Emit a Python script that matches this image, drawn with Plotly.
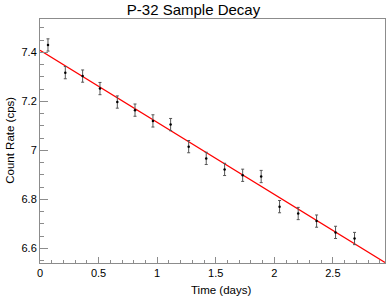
import plotly.graph_objects as go

# ---- data ----
time_days = [0.068, 0.216, 0.364, 0.512, 0.660, 0.811, 0.964, 1.115, 1.269,
             1.419, 1.576, 1.730, 1.888, 2.045, 2.204, 2.361, 2.523, 2.685]
count_rate = [7.430, 7.317, 7.303, 7.252, 7.197, 7.164, 7.120, 7.105, 7.015,
              6.967, 6.922, 6.898, 6.893, 6.770, 6.742, 6.711, 6.665, 6.640]
rate_err = [0.025] * len(time_days)

fit_intercept = 7.408
fit_slope = -0.294
fit_x = [0.0, 2.945]
fit_y = [fit_intercept + fit_slope * x for x in fit_x]

x_tickvals = [0, 0.5, 1, 1.5, 2, 2.5]
x_ticktext = ["0", "0.5", "1", "1.5", "2", "2.5"]
y_tickvals = [6.6, 6.8, 7.0, 7.2, 7.4]
y_ticktext = ["6.6", "6.8", "7", "7.2", "7.4"]

title_text = "P-32 Sample Decay"
x_title = "Time (days)"
y_title = "Count Rate (cps)"

FONT = "Liberation Sans, Arial, sans-serif"

fig = go.Figure()
fig.add_trace(go.Scatter(
    x=fit_x, y=fit_y, mode="lines",
    line=dict(color="#ff0000", width=1.3),
    hoverinfo="skip", showlegend=False))
fig.add_trace(go.Scatter(
    x=time_days, y=count_rate, mode="markers",
    marker=dict(color="#000000", size=2.5),
    error_y=dict(type="data", array=rate_err, visible=True,
                 color="#555555", thickness=1, width=1.5),
    showlegend=False))

axis_common = dict(
    showline=True, linecolor="#8c8c8c", linewidth=1, mirror=True,
    showgrid=False, zeroline=False, ticks="inside", tickcolor="#8c8c8c",
    tickfont=dict(family=FONT, size=11, color="#000000"),
)

fig.update_xaxes(
    range=[0, 2.945], tickvals=x_tickvals, ticktext=x_ticktext,
    ticklen=6, tickwidth=1,
    minor=dict(ticks="inside", ticklen=3, dtick=0.1, tick0=0,
               tickcolor="#8c8c8c", showgrid=False),
    **axis_common)
fig.update_yaxes(
    range=[6.54, 7.536], tickvals=y_tickvals, ticktext=y_ticktext,
    ticklen=8, tickwidth=1,
    minor=dict(ticks="inside", ticklen=4, dtick=0.05, tick0=6.6,
               tickcolor="#8c8c8c", showgrid=False),
    **axis_common)

fig.update_layout(
    width=387, height=298,
    margin=dict(l=40, r=2, t=19, b=35),
    paper_bgcolor="white", plot_bgcolor="white",
    font=dict(family=FONT, color="#000000"),
    title=dict(text=title_text, x=0.5, xanchor="center",
               y=1 - 10 / 298, yanchor="middle", yref="container",
               font=dict(family=FONT, size=15, color="#000000")),
    annotations=[
        dict(text=x_title, xref="paper", yref="paper", x=0.525, y=-0.109,
             xanchor="center", yanchor="middle", showarrow=False,
             font=dict(family=FONT, size=11.5, color="#000000")),
        dict(text=y_title, xref="paper", yref="paper", x=-0.087, y=0.505,
             xanchor="center", yanchor="middle", showarrow=False, textangle=-90,
             font=dict(family=FONT, size=11.5, color="#000000")),
    ],
)

fig.write_html(
    "out.html",
    config={"displayModeBar": False},
    post_script="document.body.style.margin='0';document.body.style.overflow='hidden';",
)
